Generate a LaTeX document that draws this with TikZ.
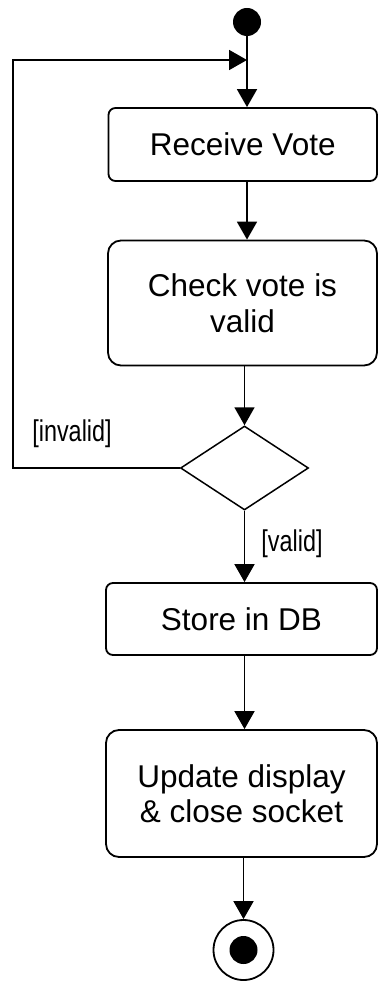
\documentclass[tikz,border=0pt]{standalone}
\usepackage{fontspec}
\setmainfont{Liberation Sans}
\newfontfamily\guardfont[FakeStretch=0.78]{Liberation Sans}
\usetikzlibrary{arrows.meta,shapes.geometric}

\tikzset{
  flow/.style={line width=1.8pt},
  arr/.style={flow, -{Triangle[width=20pt,length=18pt]}},
  action/.style={draw, line width=1.8pt, rectangle, inner sep=0pt,
    align=center, font=\fontsize{31.5}{35.5}\selectfont},
  guard/.style={inner sep=0pt, font=\guardfont\fontsize{30}{32}\selectfont},
}

\begin{document}
\begin{tikzpicture}[x=1pt, y=-1pt]
  \useasboundingbox (0,0) rectangle (378,981);

  % initial node and merge point
  \node[circle, fill=black, minimum size=28pt, inner sep=0pt] (start) at (247,22) {};
  \coordinate (merge) at (247,60);

  % actions
  \node[action, rounded corners=7pt, minimum width=268.5pt, minimum height=73pt]
    (recv) at (242.75,144.5) {Receive Vote};
  \node[action, rounded corners=13pt, minimum width=269pt, minimum height=125pt]
    (check) at (242.5,303) {Check vote is\\valid};

  % decision
  \node[diamond, draw, line width=1.5pt, inner sep=0pt, minimum width=128pt,
    minimum height=84pt] (dec) at (244.5,468) {};

  \node[action, rounded corners=7pt, minimum width=271pt, minimum height=72pt]
    (store) at (241.5,619) {Store in DB};
  \node[action, rounded corners=13pt, minimum width=271pt, minimum height=127pt]
    (update) at (241.5,793.5) {Update display\\\& close socket};

  % final node
  \node[circle, draw, line width=1.8pt, minimum size=60pt, inner sep=0pt] (end) at (243.5,950) {};
  \node[circle, fill=black, minimum size=28pt, inner sep=0pt] (enddot) at (end.center) {};

  % loop-back corner
  \coordinate (loopcorner) at (13,468);
  \coordinate (looptop) at (13,60);

  % guards
  \node[guard] (invalid) at (72,434) {[invalid]};
  \node[guard] (valid) at (292,543.5) {[valid]};

  % control flow
  \draw[flow] (start.south) -- (merge);
  \draw[arr] (merge) -- (merge |- recv.north);
  \draw[arr] (recv.south -| merge) -- (check.north -| merge);
  \draw[arr] (check.south -| dec.north) -- (dec.north);
  \draw[arr] (dec.south) -- (dec.south |- store.north);
  \draw[arr] (store.south -| dec.south) -- (update.north -| dec.south);
  \draw[arr] (update.south -| end.north) -- (end.north);
  \draw[arr] (dec.west) -- (loopcorner) -- (looptop) -- (merge);
\end{tikzpicture}
\end{document}
